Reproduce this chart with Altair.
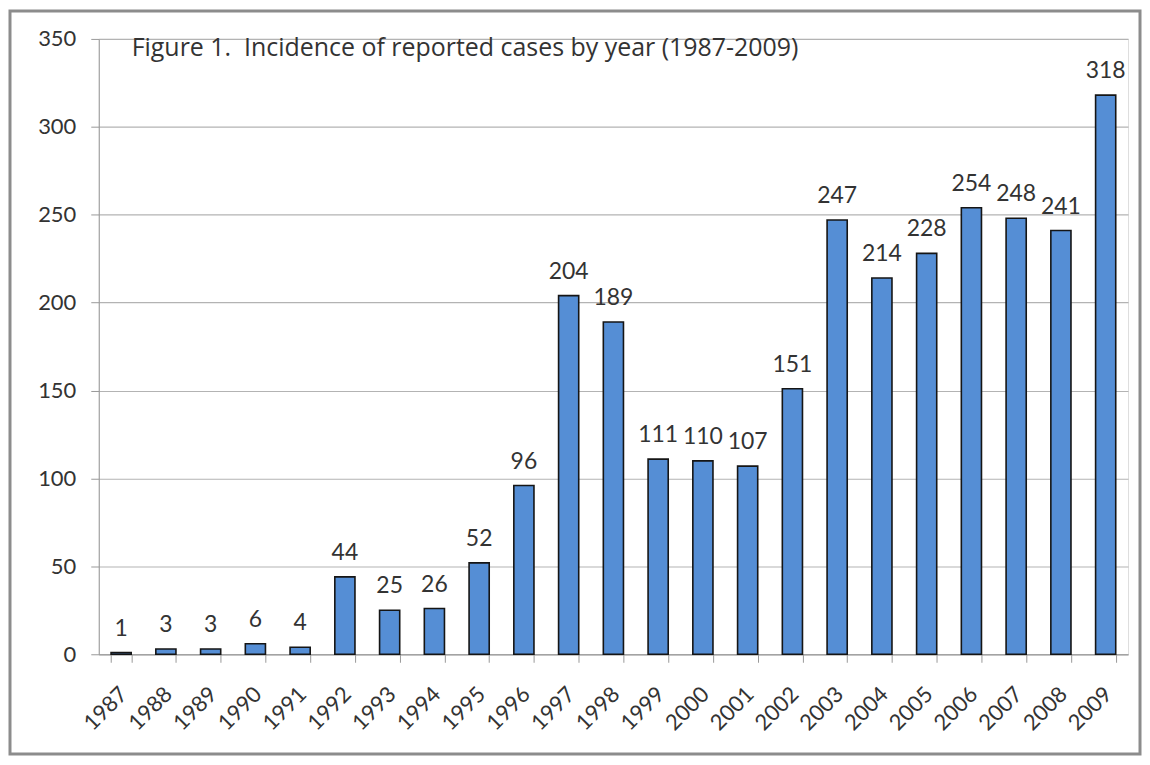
import altair as alt
import pandas as pd

years = [str(y) for y in range(1987, 2010)]
cases = [1, 3, 3, 6, 4, 44, 25, 26, 52, 96, 204, 189, 111, 110, 107, 151,
         247, 214, 228, 254, 248, 241, 318]
y_ticks = [0, 50, 100, 150, 200, 250, 300, 350]
title_text = "Figure 1.\u00a0\u00a0Incidence of reported cases by year (1987-2009)"

df = pd.DataFrame({"year": years, "cases": cases})

FONT = "Lato"
W, H = 1032, 617

x_enc = alt.X("year:N", sort=years, title=None,
              scale=alt.Scale(paddingInner=0.55, paddingOuter=0.275),
              axis=alt.Axis(labelAngle=-45, tickBand="extent", tickSize=8,
                            labelFontSize=22, labelFont=FONT, labelColor="#333333",
                            labelPadding=21, labelOffset=-5,
                            domainColor="#999999", tickColor="#999999",
                            grid=False))
y_enc = alt.Y("cases:Q", title=None,
              scale=alt.Scale(domain=[0, 350], nice=False),
              axis=alt.Axis(values=y_ticks, tickSize=8, labelFontSize=22,
                            labelFont=FONT, labelColor="#333333", labelPadding=15,
                            domainColor="#999999", tickColor="#999999",
                            gridColor="#b3b3b3", gridWidth=1.2))

base = alt.Chart(df)

bars = base.mark_bar(color="#558ED5", stroke="#151515", strokeWidth=1.6).encode(
    x=x_enc, y=y_enc)

labels = base.mark_text(baseline="bottom", dy=-12, fontSize=23, font=FONT,
                        color="#333333").encode(
    x=alt.X("year:N", sort=years), y=alt.Y("cases:Q"), text="cases:Q")

frame = alt.Chart(pd.DataFrame({"k": [0]})).mark_rect(
    fill=None, stroke="#8c8c8c", strokeWidth=3).encode(
    x=alt.value(-89), x2=alt.value(W + 12), y=alt.value(-28), y2=alt.value(H + 100))

chart = alt.layer(frame, bars, labels).properties(
    width=W, height=H,
    title=alt.TitleParams(title_text, anchor="start", frame="group", dx=33, dy=56,
                          fontSize=25, font="Open Sans", fontWeight="normal",
                          color="#333333"),
    autosize=alt.AutoSizeParams(type="none"),
    padding={"left": 91, "top": 30, "right": 14, "bottom": 102},
).configure_view(stroke=None).configure(background="white")

chart.save("out.html", embed_options={"renderer": "svg", "actions": False})
